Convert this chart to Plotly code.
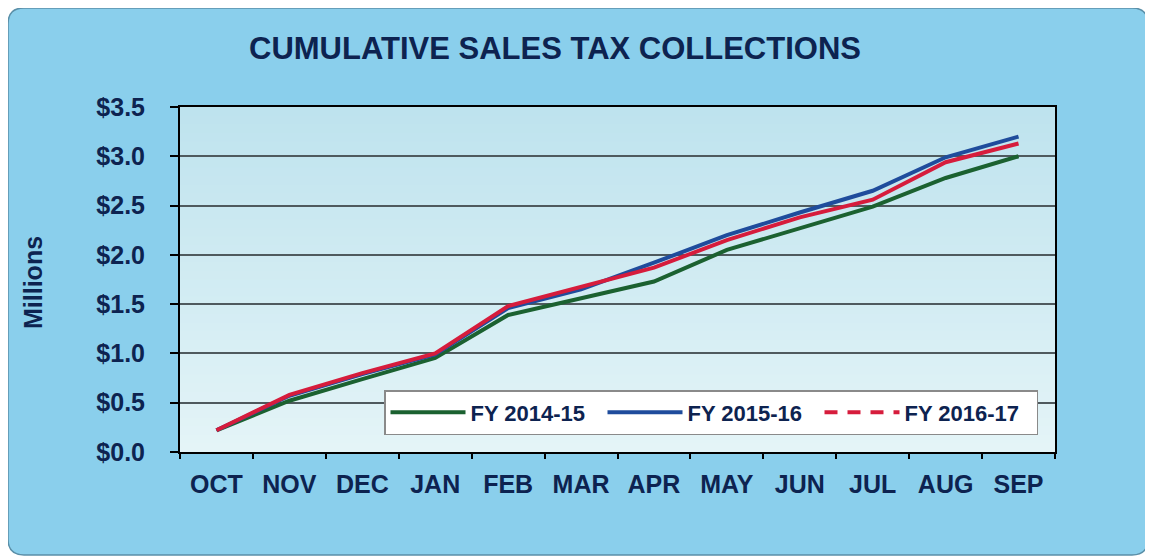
import plotly.graph_objects as go

months = ["OCT", "NOV", "DEC", "JAN", "FEB", "MAR", "APR", "MAY", "JUN", "JUL", "AUG", "SEP"]
fy_2014_15 = [0.22, 0.52, 0.74, 0.955, 1.39, 1.56, 1.73, 2.05, 2.27, 2.49, 2.78, 3.00]
fy_2015_16 = [0.22, 0.57, 0.79, 0.99, 1.46, 1.65, 1.92, 2.20, 2.43, 2.65, 2.99, 3.20]
fy_2016_17 = [0.22, 0.58, 0.80, 1.00, 1.48, 1.67, 1.87, 2.15, 2.38, 2.56, 2.94, 3.13]
y_ticks = [0, 0.5, 1.0, 1.5, 2.0, 2.5, 3.0, 3.5]
y_tick_labels = ["$0.0", "$0.5", "$1.0", "$1.5", "$2.0", "$2.5", "$3.0", "$3.5"]

NAVY = "#0d2350"
FONT = "Liberation Sans"
OFF = 8  # page body margin
W, H = 1153 - OFF, 560 - OFF
# plot area in page pixels: x 180..1055, y 107..452
L, R, T, B = 180 - OFF, W - (1055 - OFF), 107 - OFF, H - (452 - OFF)

fig = go.Figure()
fig.add_trace(go.Scatter(x=months, y=fy_2014_15, mode="lines", name="FY 2014-15",
                         line=dict(color="#1b6130", width=4)))
fig.add_trace(go.Scatter(x=months, y=fy_2015_16, mode="lines", name="FY 2015-16",
                         line=dict(color="#1f4c9c", width=4)))
fig.add_trace(go.Scatter(x=months, y=fy_2016_17, mode="lines", name="FY 2016-17",
                         line=dict(color="#d61c3c", width=4), showlegend=False))
# legend entry for FY 2016-17 (dashed symbol as in the reference legend)
fig.add_trace(go.Scatter(x=[None], y=[None], mode="lines", name="FY 2016-17",
                         line=dict(color="#d61c3c", width=4, dash="13px,10px")))

pw, ph = W - L - R, H - T - B
def px(x):  # page x -> paper x
    return (x - OFF - L) / pw
def py(y):  # page y -> paper y
    return (H - B - (y - OFF)) / ph

shapes = []
x0, x1, y0, y1 = px(8), px(1148), py(555), py(8)
rx, ry = 16 / pw, 16 / ph
path = (f"M {x0+rx},{y1} L {x1-rx},{y1} Q {x1},{y1} {x1},{y1-ry} "
        f"L {x1},{y0+ry} Q {x1},{y0} {x1-rx},{y0} L {x0+rx},{y0} "
        f"Q {x0},{y0} {x0},{y0+ry} L {x0},{y1-ry} Q {x0},{y1} {x0+rx},{y1} Z")
shapes.append(dict(type="path", path=path, xref="paper", yref="paper", layer="below",
                   fillcolor="#8acfec", line=dict(color="#5a8fa8", width=1.5)))
n = 40
top = (190, 227, 238)
bot = (228, 244, 247)
for i in range(n):
    t = i / (n - 1)
    c = tuple(int(round(bot[k] + (top[k] - bot[k]) * t)) for k in range(3))
    shapes.append(dict(type="rect", xref="x domain", yref="y domain",
                       x0=0, x1=1, y0=i / n, y1=(i + 1) / n + 0.002, layer="below",
                       fillcolor=f"rgb{c}", line=dict(width=0)))

fig.update_layout(
    width=W, height=H,
    margin=dict(l=L, r=R, t=T, b=B),
    paper_bgcolor="white",
    plot_bgcolor="#d5eef4",
    shapes=shapes,
    title=dict(text="CUMULATIVE SALES TAX COLLECTIONS", x=(555 - OFF) / W, xanchor="center",
               y=1 - (48 - OFF) / H, yanchor="middle",
               font=dict(family=FONT, size=31, color=NAVY, weight="bold")),
    font=dict(family=FONT, color=NAVY),
    showlegend=True,
    legend=dict(orientation="h", x=px(384), y=py(390), xanchor="left", yanchor="top",
                bgcolor="white", bordercolor="#8a8a8a", borderwidth=1.5,
                itemwidth=75, entrywidth=127, entrywidthmode="pixels",
                font=dict(family=FONT, size=22, color=NAVY, weight="bold"),
                traceorder="normal"),
    annotations=[dict(text="Millions", xref="paper", yref="paper", x=px(33), y=py(283),
                      textangle=-90, showarrow=False, xanchor="center", yanchor="middle",
                      font=dict(family=FONT, size=25, color=NAVY, weight="bold"))],
)

fig.update_xaxes(type="category", range=[-0.5, len(months) - 0.5],
                 showline=True, linecolor="black", linewidth=2, mirror=True,
                 showgrid=False, ticks="outside", ticklen=5, tickcolor="black", tickwidth=1.5,
                 tickson="boundaries", ticklabelstandoff=9,
                 tickfont=dict(family=FONT, size=25, color=NAVY, weight="bold"))
fig.update_yaxes(range=[0, 3.5], tickvals=y_ticks, ticktext=y_tick_labels,
                 showline=True, linecolor="black", linewidth=2, mirror=True,
                 showgrid=True, gridcolor="#4f5a5e", gridwidth=1.5, zeroline=False,
                 ticks="outside", ticklen=8, tickcolor="black", tickwidth=1.5,
                 ticklabelstandoff=20,
                 tickfont=dict(family=FONT, size=25, color=NAVY, weight="bold"))

fig.write_html("out.html")
